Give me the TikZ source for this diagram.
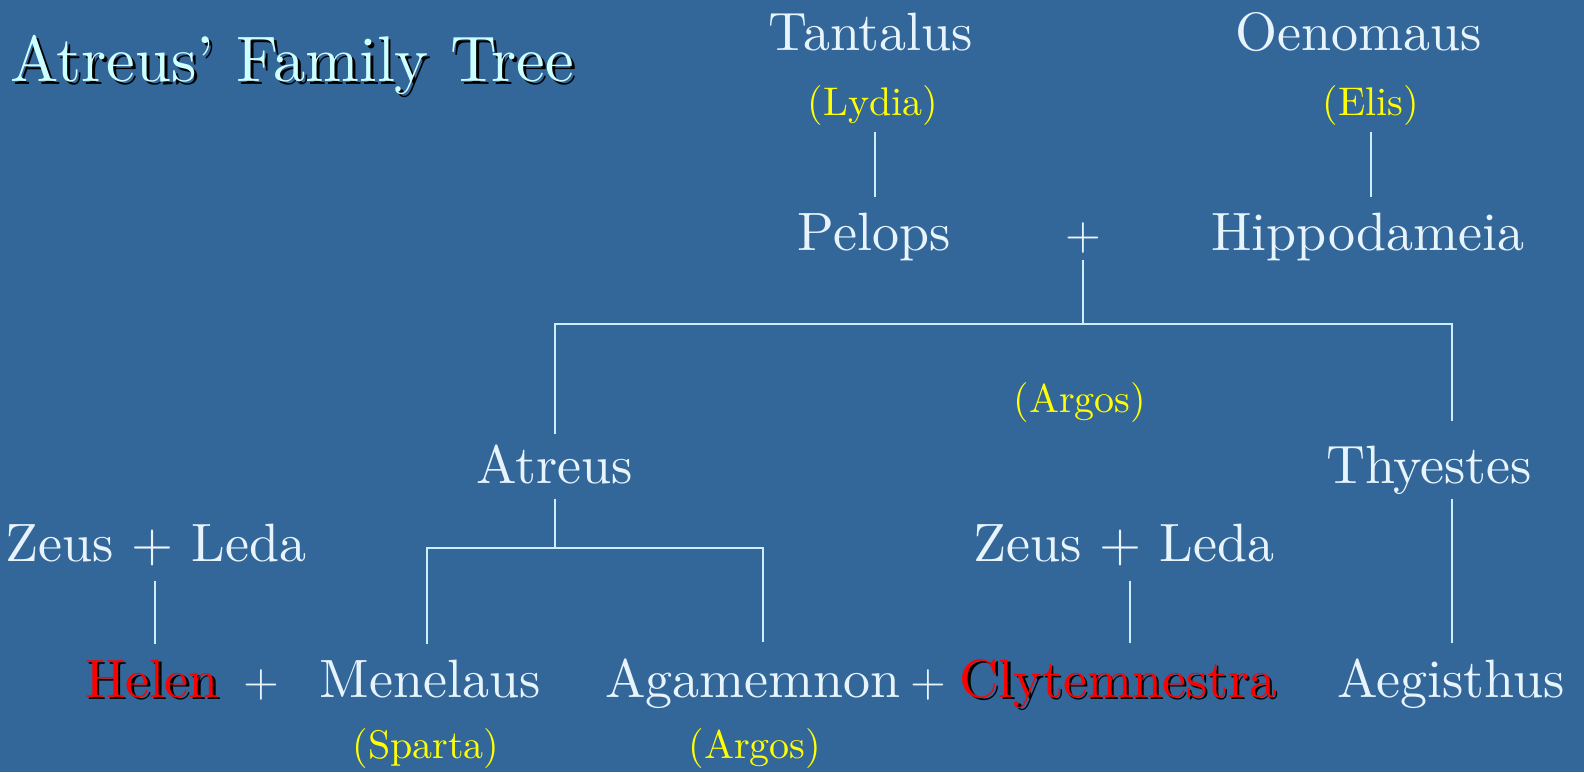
\documentclass[tikz,border=0pt]{standalone}
\usepackage{fontspec}
\setmainfont{lmroman10-regular.otf}
\usetikzlibrary{calc}
\definecolor{bgc}{HTML}{336699}
\definecolor{namec}{HTML}{E8F4FC}
\definecolor{linec}{HTML}{CCEEFF}
\definecolor{titlec}{HTML}{CCFFFF}
\definecolor{placec}{HTML}{FFFF00}
\definecolor{redc}{HTML}{FF0000}
\newcommand\shadowed[3]{\makebox[0pt][l]{\hspace{#3}\raisebox{-#3}{\color{black}#2}}\textcolor{#1}{#2}}
\tikzset{
  every node/.style={inner sep=0pt, outer sep=0pt, anchor=base},
  person/.style={text=namec, font=\fontsize{54}{60}\selectfont},
  plussign/.style={text=namec, font=\fontsize{46}{50}\selectfont},
  placetext/.style={text=placec, font=\fontsize{40}{44}\selectfont},
  titletext/.style={anchor=base west, font=\fontsize{64.5}{70}\selectfont},
  link/.style={draw=linec, line width=2pt},
}
\begin{document}
\begin{tikzpicture}[x=1pt,y=-1pt]
\useasboundingbox (0,0) rectangle (1584,772);
\fill[bgc] (0,0) rectangle (1584,772);

% title
\node[titletext] (title) at (10,81) {\shadowed{titlec}{Atreus’ Family Tree}{3pt}};

% top generation
\node[person] (tantalus) at (871,50) {Tantalus};
\node[placetext] (lydia) at (873,115) {(Lydia)};
\node[person] (oenomaus) at (1359,50) {Oenomaus};
\node[placetext] (elis) at (1371,115) {(Elis)};

\node[person] (pelops) at (874,250) {Pelops};
\node[plussign] (plusA) at (1083,249) {+};
\node[person] (hippodameia) at (1368,250) {Hippodameia};

\node[placetext] (argosMid) at (1080,412) {(Argos)};

\node[person] (atreus) at (555,483) {Atreus};
\node[person] (thyestes) at (1429,483) {Thyestes};

\node[person] (zeusL) at (156,561) {Zeus + Leda};
\node[person] (zeusR) at (1124,561) {Zeus + Leda};

% bottom row
\node[person] (helen) at (152,697) {\shadowed{redc}{Helen}{2.5pt}};
\node[plussign] (plusB) at (261,696) {+};
\node[person] (menelaus) at (430,697) {Menelaus};
\node[person] (agamemnon) at (753,697) {Agamemnon};
\node[plussign] (plusC) at (928,696) {+};
\node[person] (clytemnestra) at (1118,697) {\shadowed{redc}{Clytemnestra}{2.5pt}};
\node[person] (aegisthus) at (1451,697) {Aegisthus};

\node[placetext] (sparta) at (426,758) {(Sparta)};
\node[placetext] (argosLow) at (755,758) {(Argos)};

% junctions
\coordinate (jA) at (1083,324);
\coordinate (jB) at (555,548);

% connectors
\draw[link] ($(lydia.south)+(2,7)$) -- ($(lydia.south |- pelops.north)+(2,-16)$);
\draw[link] ($(elis.south)+(0,7)$) -- ($(elis.south |- hippodameia.north)+(0,-16)$);

\draw[link] ($(plusA.south)+(0,7)$) -- (jA);
\draw[link] ($(atreus.north)+(0,-10)$) |- (jA) -| ($(thyestes.north -| aegisthus.north)+(1,-25)$);

\draw[link] ($(atreus.south)+(0,15)$) -- (jB);
\draw[link] ($(menelaus.north)+(-3,-16)$) |- (jB) -| ($(agamemnon.north)+(10,-16)$);

\draw[link] ($(zeusL.south)+(-1,15.5)$) -- ($(zeusL.south |- helen.north)+(-1,-15.5)$);
\draw[link] ($(zeusR.south)+(6,15.5)$) -- ($(zeusR.south |- clytemnestra.north)+(6,-15.5)$);
\draw[link] ($(thyestes.south -| aegisthus.south)+(1,4.5)$) -- ($(aegisthus.north)+(1,-15.5)$);
\end{tikzpicture}
\end{document}
